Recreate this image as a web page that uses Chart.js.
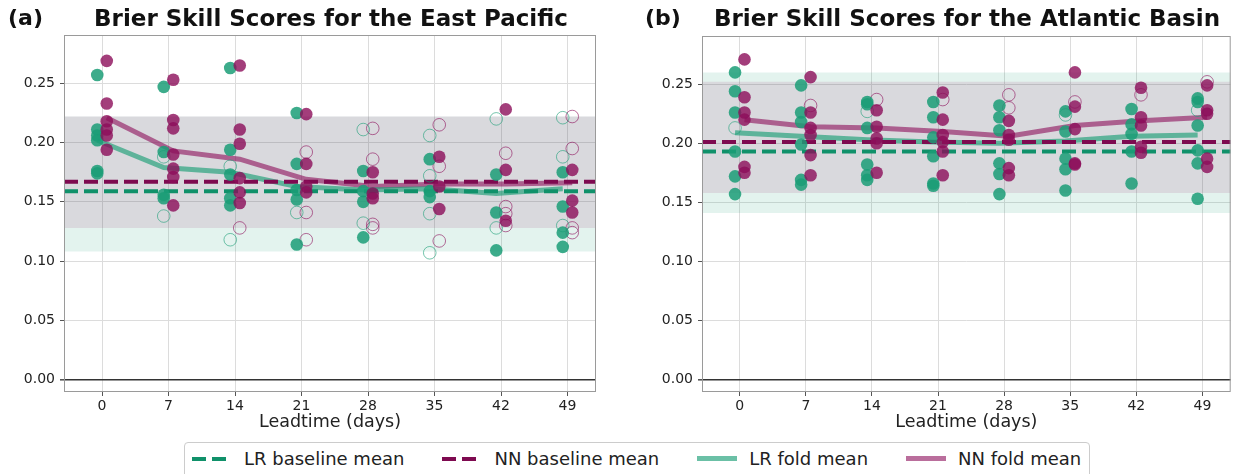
<!DOCTYPE html>
<html>
<head>
<meta charset="utf-8">
<script src="https://cdn.jsdelivr.net/npm/chart.js@4.4.1/dist/chart.umd.min.js"></script>
<style>
  body { margin: 0; background: #fff; width: 1238px; height: 474px; overflow: hidden; position: relative; font-family: "DejaVu Sans", sans-serif; }
  canvas { position: absolute; top: 0; }
  .lbl { position: absolute; font-weight: bold; font-size: 22px; color: #111; white-space: nowrap; }
  .ttl { position: absolute; font-weight: bold; font-size: 23px; color: #111; white-space: nowrap; transform: translateX(-50%); }
  .legend { position: absolute; left: 184px; top: 442px; height: 40px; border: 1px solid #ccc; border-radius: 4px; box-sizing: border-box; display: flex; align-items: flex-start; padding: 5px 8px 0 7px; font-size: 18px; color: #222; white-space: nowrap; }
  .item { display: flex; align-items: center; margin-right: 38px; flex-shrink: 0; }
  .item:last-child { margin-right: 0; }
  .sw { width: 40px; height: 4px; margin-right: 12px; flex-shrink: 0; }
</style>
</head>
<body>
<canvas id="east" width="620" height="440" style="left:0"></canvas>
<canvas id="atl" width="618" height="440" style="left:620px"></canvas>
<div class="lbl" style="left:8px;top:5px">(a)</div>
<div class="ttl" style="left:331px;top:5px">Brier Skill Scores for the East Pacific</div>
<div class="lbl" style="left:645px;top:5px">(b)</div>
<div class="ttl" style="left:967px;top:5px">Brier Skill Scores for the Atlantic Basin</div>
<div class="legend" id="legend"></div>
<script>
// leadtimes and ticks
const leadtimes = [0, 7, 14, 21, 28, 35, 42, 49];
const yTicks = [0, 0.05, 0.10, 0.15, 0.20, 0.25];

// East Pacific - one list of fold scores per leadtime
const epLrFilled = [
  [0.257, 0.211, 0.206, 0.202, 0.176, 0.174],
  [0.247, 0.192, 0.156, 0.153],
  [0.263, 0.194, 0.173, 0.153, 0.147],
  [0.225, 0.182, 0.160, 0.152, 0.114],
  [0.176, 0.159, 0.150, 0.120],
  [0.186, 0.159, 0.154],
  [0.173, 0.141, 0.109],
  [0.175, 0.146, 0.124, 0.112]
];
const epLrHollow = [
  [], [0.188, 0.138], [0.180, 0.118], [0.141],
  [0.211, 0.132], [0.206, 0.172, 0.140, 0.107], [0.220, 0.128], [0.221, 0.188, 0.130]
];
const epNnFilled = [
  [0.269, 0.233, 0.218, 0.211, 0.206, 0.194],
  [0.253, 0.219, 0.212, 0.190, 0.178, 0.171, 0.147],
  [0.265, 0.211, 0.199, 0.170, 0.158, 0.149],
  [0.224, 0.182, 0.163, 0.158],
  [0.175, 0.157, 0.153],
  [0.188, 0.163, 0.144],
  [0.228, 0.177, 0.134],
  [0.177, 0.151, 0.141]
];
const epNnHollow = [
  [], [], [0.128], [0.192, 0.141, 0.118],
  [0.212, 0.186, 0.131, 0.128], [0.215, 0.180, 0.117], [0.191, 0.146, 0.140, 0.130], [0.222, 0.195, 0.128, 0.124]
];
const epLrMean = [0.202, 0.179, 0.175, 0.163, 0.160, 0.161, 0.157, 0.161];
const epNnMean = [0.221, 0.193, 0.186, 0.169, 0.163, 0.165, 0.165, 0.166];
const epLrBaseline = 0.159;
const epNnBaseline = 0.167;
const epLrBand = [0.108, 0.222];
const epNnBand = [0.128, 0.222];

// Atlantic Basin
const atLrFilled = [
  [0.260, 0.244, 0.226, 0.193, 0.172, 0.157],
  [0.249, 0.226, 0.218, 0.199, 0.169, 0.165],
  [0.235, 0.233, 0.213, 0.182, 0.173, 0.169],
  [0.235, 0.222, 0.205, 0.189, 0.166, 0.164],
  [0.232, 0.222, 0.211, 0.183, 0.174, 0.157],
  [0.227, 0.210, 0.187, 0.178, 0.160],
  [0.229, 0.216, 0.208, 0.193, 0.166],
  [0.238, 0.235, 0.215, 0.194, 0.183, 0.153]
];
const atLrHollow = [[0.213], [], [0.227], [], [], [0.224], [], [0.228]];
const atNnFilled = [
  [0.271, 0.239, 0.226, 0.220, 0.180, 0.175],
  [0.256, 0.226, 0.213, 0.207, 0.190, 0.173],
  [0.228, 0.214, 0.204, 0.200, 0.175],
  [0.243, 0.220, 0.207, 0.201, 0.193, 0.173],
  [0.219, 0.207, 0.203, 0.179, 0.173],
  [0.260, 0.231, 0.212, 0.183, 0.182],
  [0.247, 0.222, 0.215, 0.197, 0.192],
  [0.249, 0.228, 0.225, 0.187, 0.180]
];
const atNnHollow = [[], [0.232], [0.237], [0.237], [0.241, 0.230], [0.235], [0.241], [0.252]];
const atLrMean = [0.209, 0.206, 0.203, 0.201, 0.200, 0.202, 0.206, 0.207];
const atNnMean = [0.220, 0.214, 0.213, 0.210, 0.206, 0.215, 0.219, 0.222];
const atLrBaseline = 0.193;
const atNnBaseline = 0.201;
const atLrBand = [0.141, 0.260];
const atNnBand = [0.158, 0.252];

const legendLabels = ['LR baseline mean', 'NN baseline mean', 'LR fold mean', 'NN fold mean'];

// styling
const LR = '27,158,119';
const NN = '140,14,90';
const LR_DASH = '#10916a';
const NN_DASH = '#7e0a50';
const X_MIN = -4, X_MAX = 52;
const Y_MIN = -0.0105, Y_MAX = 0.2908;

Chart.defaults.font.family = '"DejaVu Sans", sans-serif';
Chart.defaults.color = '#222';

function points(groups, off) {
  const out = [];
  groups.forEach((vals, i) => vals.forEach(v => out.push({ x: leadtimes[i] + off, y: v })));
  return out;
}
const series = (vals, off) => vals.map((v, i) => ({ x: leadtimes[i] + off, y: v }));
const hline = (v) => [{ x: X_MIN, y: v }, { x: X_MAX, y: v }];

const frame = {
  id: 'frame',
  afterDatasetsDraw(chart) {
    const a = chart.chartArea, c = chart.ctx;
    c.save();
    c.strokeStyle = '#9a9a9a';
    c.lineWidth = 1;
    c.strokeRect(a.left + 0.5, a.top + 0.5, a.right - a.left - 1, a.bottom - a.top - 1);
    c.restore();
  }
};

function makePanel(id, d, pad) {
  const plain = { pointRadius: 0, borderWidth: 0, showLine: true };
  const dots = (data, fillc, edge, ord) => ({
    data, showLine: false, pointRadius: 6.3, borderWidth: 0,
    pointBackgroundColor: fillc, pointBorderColor: edge, pointBorderWidth: edge ? 1 : 0, order: ord
  });
  const datasets = [
    { ...plain, data: hline(d.nnBand[1]), fill: '+1', backgroundColor: `rgba(${NN},0.115)`, order: 10 },
    { ...plain, data: hline(d.nnBand[0]), fill: false, order: 10 },
    { ...plain, data: hline(d.lrBand[1]), fill: '+1', backgroundColor: `rgba(${LR},0.12)`, order: 11 },
    { ...plain, data: hline(d.lrBand[0]), fill: false, order: 11 },
    { data: series(d.lrMean, -0.5), pointRadius: 0, borderWidth: 5, borderColor: `rgba(${LR},0.65)`, order: 5 },
    { data: series(d.nnMean, 0.5), pointRadius: 0, borderWidth: 5, borderColor: `rgba(${NN},0.6)`, order: 5 },
    { data: hline(d.lrBase), pointRadius: 0, borderWidth: 4, borderColor: LR_DASH, borderDash: [14, 6], order: 4 },
    { data: hline(d.nnBase), pointRadius: 0, borderWidth: 4, borderColor: NN_DASH, borderDash: [14, 6], order: 4 },
    dots(points(d.lrHollow, -0.5), 'rgba(0,0,0,0)', `rgba(${LR},0.6)`, 3),
    dots(points(d.nnHollow, 0.5), 'rgba(0,0,0,0)', `rgba(${NN},0.6)`, 3),
    dots(points(d.lrFilled, -0.5), `rgba(${LR},0.85)`, null, 2),
    dots(points(d.nnFilled, 0.5), `rgba(${NN},0.8)`, null, 1)
  ];
  datasets.forEach(ds => { ds.tension = 0; });

  return new Chart(document.getElementById(id), {
    type: 'line',
    data: { datasets },
    plugins: [frame],
    options: {
      responsive: false,
      animation: false,
      events: [],
      layout: { padding: pad },
      plugins: { legend: { display: false }, tooltip: { enabled: false } },
      scales: {
        x: {
          type: 'linear', min: X_MIN, max: X_MAX,
          afterBuildTicks: (s) => { s.ticks = leadtimes.map(v => ({ value: v })); },
          afterFit: (s) => { s.height = 46; },
          ticks: { font: { size: 14 }, padding: 2, callback: (v) => String(v), maxRotation: 0 },
          grid: { color: '#dcdcdc', tickLength: 4, tickColor: '#555' },
          border: { display: false },
          title: { display: true, text: 'Leadtime (days)', font: { size: 17.5 }, padding: { top: 0, bottom: 5 } }
        },
        y: {
          type: 'linear', min: Y_MIN, max: Y_MAX,
          afterBuildTicks: (s) => { s.ticks = yTicks.map(v => ({ value: v })); },
          afterFit: (s) => { s.width = 50; },
          ticks: { font: { size: 14 }, padding: 5, callback: (v) => v.toFixed(2) },
          grid: {
            color: (c) => (c.tick && c.tick.value === 0 ? '#333' : '#dcdcdc'),
            lineWidth: (c) => (c.tick && c.tick.value === 0 ? 1.6 : 1),
            tickLength: 4, tickColor: '#555'
          },
          border: { display: false }
        }
      }
    }
  });
}

makePanel('east', {
  lrFilled: epLrFilled, lrHollow: epLrHollow, nnFilled: epNnFilled, nnHollow: epNnHollow,
  lrMean: epLrMean, nnMean: epNnMean, lrBase: epLrBaseline, nnBase: epNnBaseline,
  lrBand: epLrBand, nnBand: epNnBand
}, { left: 14, right: 24, top: 35, bottom: 2 });

makePanel('atl', {
  lrFilled: atLrFilled, lrHollow: atLrHollow, nnFilled: atNnFilled, nnHollow: atNnHollow,
  lrMean: atLrMean, nnMean: atNnMean, lrBase: atLrBaseline, nnBase: atNnBaseline,
  lrBand: atLrBand, nnBand: atNnBand
}, { left: 32, right: 6, top: 36, bottom: 2 });

// legend
const swatches = [
  `repeating-linear-gradient(90deg, ${LR_DASH} 0 14px, transparent 14px 20px)`,
  `repeating-linear-gradient(90deg, ${NN_DASH} 0 14px, transparent 14px 20px)`,
  `rgba(${LR},0.65)`,
  `rgba(${NN},0.6)`
];
const lg = document.getElementById('legend');
legendLabels.forEach((t, i) => {
  const it = document.createElement('div');
  it.className = 'item';
  const sw = document.createElement('div');
  sw.className = 'sw';
  sw.style.background = swatches[i];
  if (i >= 2) sw.style.height = '5px';
  const tx = document.createElement('span');
  tx.textContent = t;
  it.appendChild(sw);
  it.appendChild(tx);
  lg.appendChild(it);
});
</script>
</body>
</html>
